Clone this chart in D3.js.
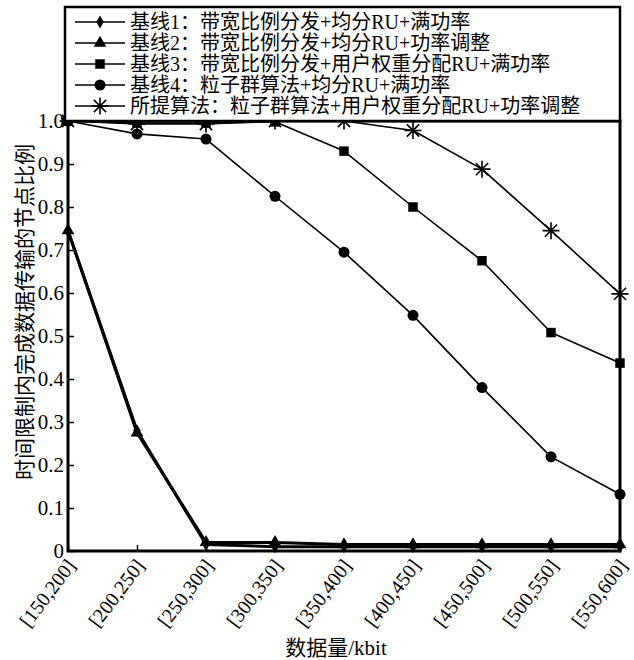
<!DOCTYPE html>
<html>
<head>
<meta charset="utf-8">
<script src="https://cdn.jsdelivr.net/npm/d3@7"></script>
<style>
  body { margin: 0; background: #fff; }
  text { font-family: "Liberation Serif", "Noto Sans CJK SC", serif; fill: #000; }
</style>
</head>
<body>
<div id="chart"></div>
<script>
// categories on the x axis
var categories = ["[150,200]", "[200,250]", "[250,300]", "[300,350]", "[350,400]",
                  "[400,450]", "[450,500]", "[500,550]", "[550,600]"];
// y tick labels
var yTicks = [0, 0.1, 0.2, 0.3, 0.4, 0.5, 0.6, 0.7, 0.8, 0.9, 1.0];

// series values
var baseline1 = [0.745, 0.28, 0.015, 0.01, 0.01, 0.01, 0.01, 0.01, 0.01];
var baseline2 = [0.745, 0.275, 0.02, 0.02, 0.015, 0.015, 0.015, 0.015, 0.015];
var baseline3 = [1.0, 0.995, 0.995, 0.998, 0.93, 0.80, 0.675, 0.508, 0.437];
var baseline4 = [1.0, 0.97, 0.958, 0.825, 0.695, 0.548, 0.38, 0.219, 0.132];
var proposed  = [1.0, 0.993, 0.993, 1.0, 1.0, 0.978, 0.888, 0.745, 0.598];

var seriesNames = [
    "基线1：带宽比例分发+均分RU+满功率",
    "基线2：带宽比例分发+均分RU+功率调整",
    "基线3：带宽比例分发+用户权重分配RU+满功率",
    "基线4：粒子群算法+均分RU+满功率",
    "所提算法：粒子群算法+用户权重分配RU+功率调整"
];

var series = [
    {name: seriesNames[0], values: baseline1, marker: "diamond", width: 3},
    {name: seriesNames[1], values: baseline2, marker: "triangle", width: 3},
    {name: seriesNames[2], values: baseline3, marker: "square", width: 1.6},
    {name: seriesNames[3], values: baseline4, marker: "circle", width: 1.6},
    {name: seriesNames[4], values: proposed, marker: "star", width: 1.6}
];

var W = 634, H = 660;
var margin = {top: 121, right: 14, bottom: 109, left: 68};

var svg = d3.select("#chart")
        .append("svg")
        .attr("width", W)
        .attr("height", H);

var x = d3.scalePoint()
        .domain(categories)
        .range([margin.left, W - margin.right]);

var y = d3.scaleLinear()
        .domain([0, 1])
        .range([H - margin.bottom, margin.top]);

// marker shapes
function markerPath(kind) {
    if (kind === "diamond") return d3.symbol().type(d3.symbolDiamond).size(48)();
    if (kind === "triangle") return d3.symbol().type(d3.symbolTriangle).size(70)();
    if (kind === "square") return d3.symbol().type(d3.symbolSquare).size(90)();
    if (kind === "circle") return d3.symbol().type(d3.symbolCircle).size(95)();
    // asterisk: + and x together
    var r = 8.5, s = r * 0.72;
    return "M" + (-r) + ",0L" + r + ",0M0," + (-r) + "L0," + r +
           "M" + (-s) + "," + (-s) + "L" + s + "," + s +
           "M" + (-s) + "," + s + "L" + s + "," + (-s);
}

function drawMarker(g, kind, px, py) {
    var p = g.append("path")
        .attr("d", markerPath(kind))
        .attr("transform", "translate(" + px + "," + py + ")");
    if (kind === "star") {
        p.attr("fill", "none").attr("stroke", "#000").attr("stroke-width", 1.6);
    } else {
        p.attr("fill", "#000");
    }
}

// lines
var line = d3.line()
        .x(function (d, i) { return x(categories[i]); })
        .y(function (d) { return y(d); });

series.forEach(function (s) {
    svg.append("path")
        .datum(s.values)
        .attr("d", line)
        .attr("fill", "none")
        .attr("stroke", "#000")
        .attr("stroke-width", s.width)
        .attr("stroke-linejoin", "round");
});

series.forEach(function (s) {
    var g = svg.append("g");
    s.values.forEach(function (v, i) {
        drawMarker(g, s.marker, x(categories[i]), y(v));
    });
});

// y axis (ticks inside)
var yAxis = svg.append("g")
        .attr("transform", "translate(" + margin.left + ",0)")
        .call(d3.axisRight(y).tickValues(yTicks).tickSize(6)
            .tickFormat(function (d) { return d === 0 ? "0" : d3.format(".1f")(d); }));
yAxis.select(".domain").remove();
yAxis.selectAll("line").attr("stroke-width", 1.5);
yAxis.selectAll("text")
        .attr("x", -4)
        .attr("text-anchor", "end")
        .style("font-size", "21px");

// x axis (ticks inside)
var xAxis = svg.append("g")
        .attr("transform", "translate(0," + (H - margin.bottom) + ")")
        .call(d3.axisTop(x).tickSize(6));
xAxis.select(".domain").remove();
xAxis.selectAll("line").attr("stroke-width", 1.5);
xAxis.selectAll("text")
        .attr("x", 0)
        .attr("y", 0)
        .attr("dy", 0)
        .attr("text-anchor", "end")
        .attr("transform", "translate(8,15) rotate(-53)")
        .style("font-size", "20px");

// plot frame
svg.append("rect")
        .attr("x", margin.left)
        .attr("y", margin.top)
        .attr("width", W - margin.right - margin.left)
        .attr("height", H - margin.bottom - margin.top)
        .attr("fill", "none")
        .attr("stroke", "#000")
        .attr("stroke-width", 3);

// legend box on top
var legend = svg.append("g");
legend.append("rect")
        .attr("x", 65)
        .attr("y", 7)
        .attr("width", W - margin.right - 65)
        .attr("height", margin.top - 7)
        .attr("fill", "#fff")
        .attr("stroke", "#000")
        .attr("stroke-width", 2.5);

series.forEach(function (s, i) {
    var ly = 22 + i * 21;
    legend.append("line")
        .attr("x1", 75).attr("x2", 125)
        .attr("y1", ly).attr("y2", ly)
        .attr("stroke", "#000")
        .attr("stroke-width", 1.6);
    drawMarker(legend, s.marker, 100, ly);
    legend.append("text")
        .attr("x", 130)
        .attr("y", ly)
        .attr("dy", "0.35em")
        .style("font-size", "20px")
        .text(s.name);
});

// axis titles
svg.append("text")
        .attr("x", 336)
        .attr("y", 655)
        .attr("text-anchor", "middle")
        .style("font-size", "21px")
        .text("数据量/kbit");

svg.append("text")
        .attr("transform", "translate(32,312) rotate(-90)")
        .attr("text-anchor", "middle")
        .style("font-size", "21px")
        .text("时间限制内完成数据传输的节点比例");
</script>
</body>
</html>
